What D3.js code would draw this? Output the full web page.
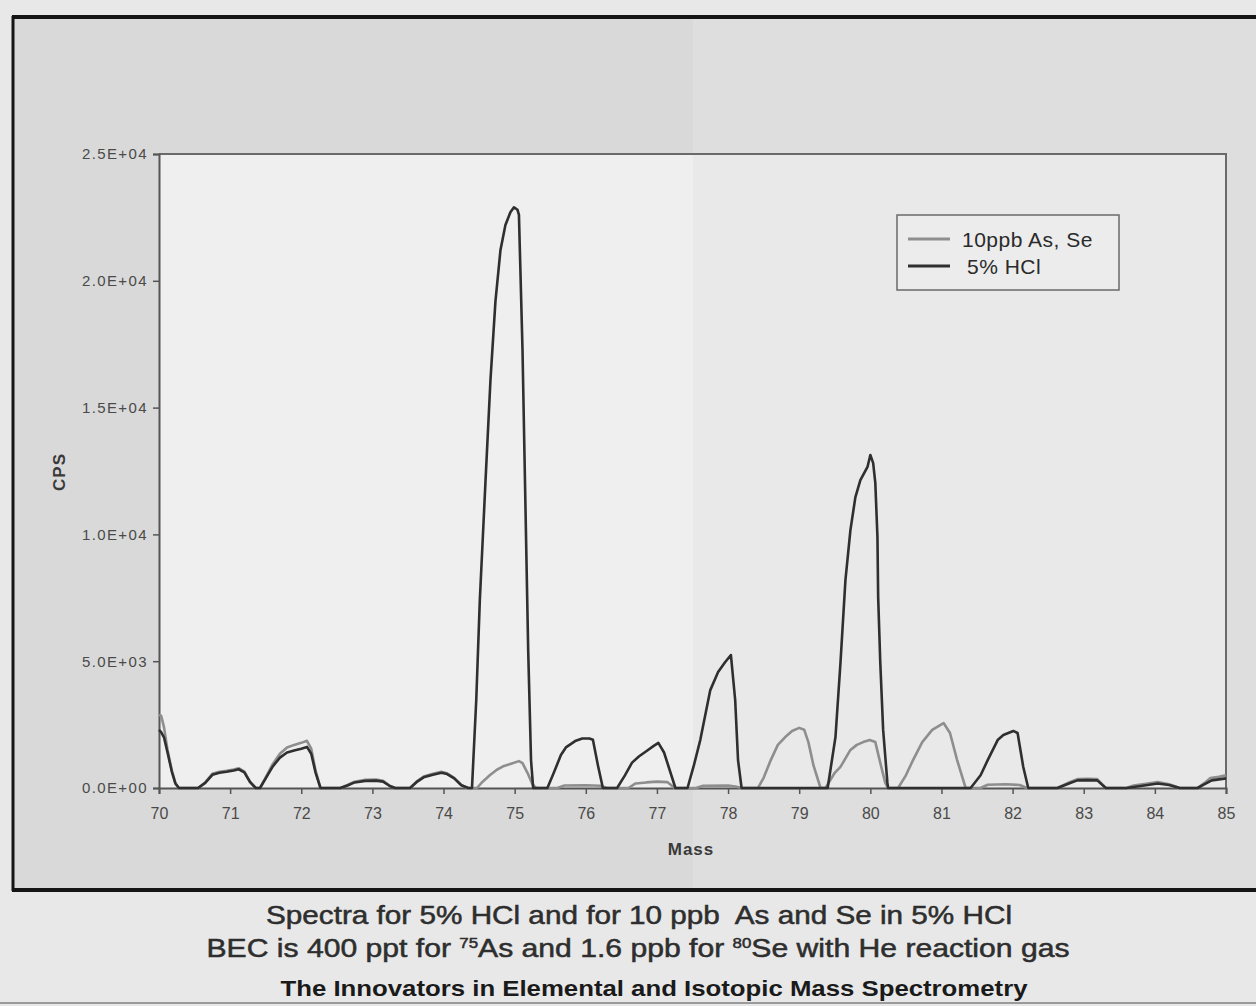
<!DOCTYPE html>
<html>
<head>
<meta charset="utf-8">
<script src="https://cdn.jsdelivr.net/npm/d3@7"></script>
<style>
  html, body { margin: 0; padding: 0; background: #e9e9e9; }
  svg { display: block; }
</style>
</head>
<body>
<svg id="chart"></svg>
<script>
const width = 1256;
const height = 1006;

// x axis: mass units
const massTicks = d3.range(70, 86);
const cpsTicks = [0, 5000, 10000, 15000, 20000, 25000];

// 10ppb As, Se  (grey trace) as [mass, cps]
const asSeSpectrum = [
  [70.00, 2880], [70.03, 2850], [70.07, 2400], [70.12, 1500], [70.18, 700], [70.23, 200], [70.28, 0],
  [70.55, 0], [70.65, 220], [70.75, 560], [70.85, 640], [70.95, 680], [71.05, 730], [71.12, 780], [71.20, 650], [71.28, 250], [71.36, 0],
  [71.42, 0], [71.50, 420], [71.60, 950], [71.70, 1350], [71.80, 1600], [71.90, 1700], [72.00, 1780], [72.08, 1860], [72.14, 1550], [72.20, 700], [72.27, 0],
  [72.55, 0], [72.65, 120], [72.75, 250], [72.90, 320], [73.05, 330], [73.15, 280], [73.25, 80], [73.32, 0],
  [73.53, 0], [73.62, 250], [73.72, 450], [73.85, 560], [73.97, 640], [74.05, 580], [74.15, 400], [74.25, 120], [74.33, 0],
  [74.47, 0], [74.55, 250], [74.65, 500], [74.75, 720], [74.85, 870], [74.95, 960], [75.06, 1060], [75.11, 980], [75.18, 600], [75.25, 150], [75.30, 0],
  [75.60, 0], [75.70, 100], [76.00, 110], [76.20, 90], [76.30, 0],
  [76.60, 0], [76.70, 180], [76.85, 220], [77.00, 250], [77.15, 230], [77.25, 0],
  [77.55, 0], [77.65, 90], [78.00, 100], [78.10, 60], [78.20, 0],
  [78.42, 0], [78.50, 400], [78.60, 1100], [78.70, 1700], [78.80, 2000], [78.90, 2250], [79.00, 2370], [79.07, 2300], [79.13, 1800], [79.20, 900], [79.30, 0],
  [79.37, 0], [79.50, 600], [79.58, 830], [79.72, 1500], [79.81, 1700], [79.90, 1810], [79.99, 1890], [80.07, 1810], [80.14, 990], [80.21, 200], [80.25, 0],
  [80.39, 0], [80.50, 500], [80.60, 1100], [80.73, 1810], [80.87, 2290], [81.03, 2560], [81.12, 2170], [81.22, 1100], [81.34, 0],
  [81.55, 0], [81.65, 130], [81.90, 150], [82.10, 120], [82.20, 0],
  [82.63, 0], [82.81, 240], [82.91, 350], [83.05, 360], [83.19, 350], [83.31, 0],
  [83.60, 0], [83.70, 100], [83.90, 180], [84.04, 240], [84.20, 150], [84.35, 0],
  [84.60, 0], [84.70, 200], [84.78, 390], [84.90, 440], [85.00, 500]
];

// 5% HCl (dark trace)
const hclSpectrum = [
  [70.00, 2290], [70.03, 2200], [70.07, 2000], [70.12, 1400], [70.18, 650], [70.23, 180], [70.28, 0],
  [70.55, 0], [70.65, 200], [70.75, 520], [70.85, 600], [70.95, 640], [71.05, 690], [71.12, 740], [71.20, 620], [71.28, 230], [71.36, 0],
  [71.42, 0], [71.50, 380], [71.60, 850], [71.70, 1200], [71.80, 1400], [71.90, 1480], [72.00, 1550], [72.08, 1620], [72.14, 1350], [72.20, 620], [72.27, 0],
  [72.55, 0], [72.65, 100], [72.75, 220], [72.90, 280], [73.05, 290], [73.15, 250], [73.25, 70], [73.32, 0],
  [73.53, 0], [73.62, 230], [73.72, 420], [73.85, 520], [73.97, 600], [74.05, 550], [74.15, 380], [74.25, 110], [74.35, 0],
  [74.40, 0], [74.46, 3470], [74.51, 7400], [74.59, 12100], [74.66, 16100], [74.73, 19200], [74.80, 21200], [74.87, 22200], [74.94, 22700], [74.99, 22900], [75.04, 22800], [75.06, 22600], [75.11, 17300], [75.15, 11350], [75.19, 5440], [75.23, 1100], [75.26, 0],
  [75.46, 0], [75.55, 600], [75.65, 1300], [75.72, 1600], [75.85, 1850], [75.95, 1950], [76.05, 1950], [76.10, 1900], [76.17, 900], [76.24, 0],
  [76.44, 0], [76.55, 500], [76.65, 1000], [76.75, 1250], [76.85, 1450], [76.95, 1650], [77.02, 1780], [77.10, 1400], [77.18, 700], [77.26, 0],
  [77.43, 0], [77.52, 900], [77.61, 1900], [77.75, 3860], [77.86, 4570], [77.96, 4970], [78.04, 5240], [78.10, 3470], [78.14, 1100], [78.19, 0],
  [79.40, 0], [79.51, 2010], [79.58, 4930], [79.65, 8200], [79.72, 10170], [79.79, 11470], [79.86, 12140], [79.96, 12660], [80.00, 13130], [80.04, 12810], [80.07, 12030], [80.10, 9900], [80.11, 7530], [80.14, 4930], [80.18, 2290], [80.24, 200], [80.25, 0],
  [81.41, 0], [81.55, 500], [81.65, 1100], [81.79, 1890], [81.87, 2090], [82.01, 2250], [82.07, 2170], [82.11, 1500], [82.15, 830], [82.22, 0],
  [82.63, 0], [82.81, 200], [82.91, 300], [83.05, 310], [83.19, 300], [83.31, 0],
  [83.60, 0], [83.90, 120], [84.04, 180], [84.20, 120], [84.35, 0],
  [84.60, 0], [84.70, 150], [84.80, 300], [85.00, 380]
];

const seriesNames = ["10ppb As, Se", "5% HCl"];
const seriesColors = ["#8e8e8e", "#2f2f2f"];

const svg = d3.select("svg#chart").attr("width", width).attr("height", height);

const x = d3.scaleLinear().domain([70, 85]).range([159, 1226]);
const y = d3.scaleLinear().domain([0, 25000]).range([788, 154]);

// page background / scan frame
svg.append("rect").attr("width", width).attr("height", height).attr("fill", "#e8e8e8");
svg.append("rect").attr("x", 13).attr("y", 17).attr("width", width - 13).attr("height", 873).attr("fill", "#d9d9d9");
svg.append("rect").attr("x", 693).attr("y", 19).attr("width", width - 693).attr("height", 869).attr("fill", "#dedede");

// plot area
svg.append("rect")
  .attr("x", x(70)).attr("y", y(25000))
  .attr("width", x(85) - x(70)).attr("height", y(0) - y(25000))
  .attr("fill", "#efefef");
svg.append("rect")
  .attr("x", 693).attr("y", y(25000))
  .attr("width", x(85) - 693).attr("height", y(0) - y(25000))
  .attr("fill", "#e9e9e9");

// frame lines
svg.append("line").attr("x1", 12).attr("x2", width).attr("y1", 17).attr("y2", 17)
  .attr("stroke", "#151515").attr("stroke-width", 4);
svg.append("line").attr("x1", 13).attr("x2", 13).attr("y1", 16).attr("y2", 891)
  .attr("stroke", "#151515").attr("stroke-width", 3);
svg.append("line").attr("x1", 12).attr("x2", width).attr("y1", 890).attr("y2", 890)
  .attr("stroke", "#151515").attr("stroke-width", 4);
svg.append("line").attr("x1", 0).attr("x2", width).attr("y1", 1003).attr("y2", 1003)
  .attr("stroke", "#9a9a9a").attr("stroke-width", 2);

// plot border (top + right)
svg.append("path")
  .attr("d", `M${x(70)},${y(25000)}H${x(85)}V${y(0)}`)
  .attr("fill", "none").attr("stroke", "#6a6a6a").attr("stroke-width", 2);

// axes
const fmtE = v => {
  const [m, e] = v.toExponential(1).split("e");
  return m + "E" + e[0] + e.slice(1).padStart(2, "0");
};

const yAxis = svg.append("g")
  .attr("transform", `translate(${x(70)},0)`)
  .call(d3.axisLeft(y).tickValues(cpsTicks).tickFormat(fmtE).tickSize(6).tickPadding(5));
yAxis.select(".domain").attr("stroke", "#555").attr("stroke-width", 2);
yAxis.selectAll(".tick line").attr("stroke", "#555").attr("stroke-width", 1.5);
yAxis.selectAll(".tick text")
  .attr("font-family", "Liberation Sans, Arial, sans-serif")
  .attr("font-size", 15).attr("letter-spacing", 1.4).attr("fill", "#4a4a4a");

const xAxis = svg.append("g")
  .attr("transform", `translate(0,${y(0)})`)
  .call(d3.axisBottom(x).tickValues(massTicks).tickFormat(d3.format("d")).tickSize(6).tickSizeOuter(6).tickPadding(14));
xAxis.select(".domain").attr("stroke", "#555").attr("stroke-width", 2);
xAxis.selectAll(".tick line").attr("stroke", "#555").attr("stroke-width", 1.5);
xAxis.selectAll(".tick text")
  .attr("font-family", "Liberation Sans, Arial, sans-serif")
  .attr("font-size", 16).attr("fill", "#4a4a4a");

svg.append("text")
  .attr("x", 691).attr("y", 855)
  .attr("text-anchor", "middle")
  .attr("font-family", "Liberation Sans, Arial, sans-serif")
  .attr("font-weight", "bold").attr("font-size", 17).attr("letter-spacing", 1).attr("fill", "#3a3a3a")
  .text("Mass");

svg.append("text")
  .attr("transform", "translate(65,472) rotate(-90)")
  .attr("text-anchor", "middle")
  .attr("font-family", "Liberation Sans, Arial, sans-serif")
  .attr("font-weight", "bold").attr("font-size", 17).attr("letter-spacing", 1).attr("fill", "#3a3a3a")
  .text("CPS");

// spectra
const line = d3.line().x(d => x(d[0])).y(d => y(d[1]));
[asSeSpectrum, hclSpectrum].forEach((data, i) => {
  svg.append("path")
    .datum(data)
    .attr("d", line)
    .attr("fill", "none")
    .attr("stroke", seriesColors[i])
    .attr("stroke-width", 2.6)
    .attr("stroke-linejoin", "round");
});

// legend
const legend = svg.append("g").attr("transform", "translate(897,215)");
legend.append("rect")
  .attr("width", 222).attr("height", 75)
  .attr("fill", "#ececec").attr("stroke", "#6a6a6a").attr("stroke-width", 1.5);
seriesNames.forEach((name, i) => {
  legend.append("line")
    .attr("x1", 11).attr("x2", 53)
    .attr("y1", 24 + i * 27).attr("y2", 24 + i * 27)
    .attr("stroke", seriesColors[i]).attr("stroke-width", 3);
  legend.append("text")
    .attr("x", 65 + i * 5).attr("y", 32 + i * 27)
    .attr("font-family", "Liberation Sans, Arial, sans-serif")
    .attr("font-size", 21).attr("letter-spacing", 0.5).attr("fill", "#2a2a2a")
    .text(name);
});

// caption
const cap = svg.append("g")
  .attr("font-family", "Liberation Sans, Arial, sans-serif")
  .attr("text-anchor", "middle");
cap.append("text")
  .attr("x", 639).attr("y", 924)
  .attr("font-size", 25).attr("fill", "#2e2e2e")
  .attr("stroke", "#2e2e2e").attr("stroke-width", 0.5)
  .attr("textLength", 746).attr("lengthAdjust", "spacingAndGlyphs")
  .style("white-space", "pre")
  .text("Spectra for 5% HCl and for 10 ppb  As and Se in 5% HCl");
const cap2 = cap.append("text")
  .attr("x", 638).attr("y", 957)
  .attr("font-size", 25).attr("fill", "#2e2e2e")
  .attr("stroke", "#2e2e2e").attr("stroke-width", 0.5)
  .attr("textLength", 863).attr("lengthAdjust", "spacingAndGlyphs");
cap2.append("tspan").text("BEC is 400 ppt for ");
cap2.append("tspan").attr("font-size", 14).attr("dy", -9).text("75");
cap2.append("tspan").attr("dy", 9).text("As and 1.6 ppb for ");
cap2.append("tspan").attr("font-size", 14).attr("dy", -9).text("80");
cap2.append("tspan").attr("dy", 9).text("Se with He reaction gas");
cap.append("text")
  .attr("x", 654).attr("y", 996)
  .attr("font-size", 22).attr("font-weight", "bold").attr("fill", "#1a1a1a")
  .attr("textLength", 747).attr("lengthAdjust", "spacingAndGlyphs")
  .text("The Innovators in Elemental and Isotopic Mass Spectrometry");
</script>
</body>
</html>
